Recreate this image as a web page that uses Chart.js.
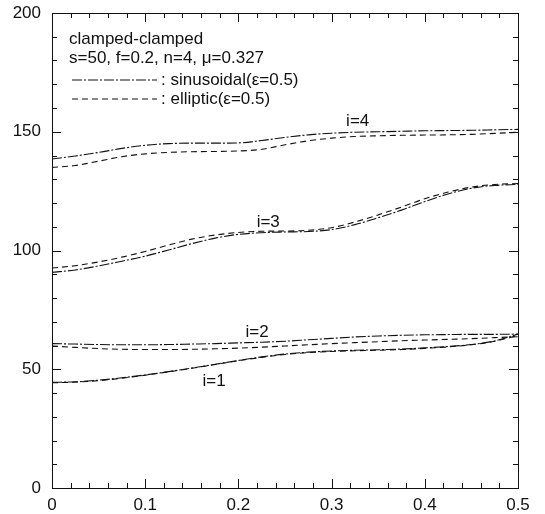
<!DOCTYPE html>
<html>
<head>
<meta charset="utf-8">
<script src="https://cdn.jsdelivr.net/npm/chart.js@4/dist/chart.umd.min.js"></script>
<style>
  html, body { margin: 0; padding: 0; background: #fff; }
  #wrap { width: 545px; height: 514px; }
</style>
</head>
<body>
<div id="wrap"><canvas id="chart" width="545" height="514"></canvas></div>
<script>
// aspect ratio values
const xs = [0, 0.025, 0.05, 0.075, 0.1, 0.125, 0.15, 0.175, 0.2, 0.225, 0.25,
            0.275, 0.3, 0.325, 0.35, 0.375, 0.4, 0.425, 0.45, 0.475, 0.5];

const sin4 = [138.5, 139.8, 141.3, 143, 144.3, 145, 145.2, 145.2, 145.3, 146.3, 147.6,
              148.7, 149.4, 149.8, 150, 150.2, 150.4, 150.5, 150.6, 150.8, 151];
const ell4 = [135, 135.8, 137.6, 139.5, 140.7, 141.3, 141.6, 141.7, 141.9, 142.6, 144.5,
              146.2, 147.3, 148, 148.3, 148.5, 148.6, 148.7, 148.9, 149.3, 149.8];
const sin3 = [90.8, 91.8, 93.5, 95.5, 97.6, 100.2, 102.9, 105.2, 106.8, 107.5, 107.8,
              108, 108.8, 110.9, 113.8, 117, 120.6, 123.8, 126.2, 127.4, 127.8];
const ell3 = [92.6, 93.6, 95.2, 97.2, 99.6, 102.3, 104.8, 106.5, 107.6, 108.1, 108.2,
              108.5, 109.6, 112, 115, 118.3, 121.8, 124.6, 126.7, 127.8, 128.2];
const sin2 = [60.8, 60.6, 60.4, 60.3, 60.3, 60.4, 60.6, 60.8, 61.1, 61.4, 61.8,
              62.4, 63, 63.6, 64, 64.3, 64.5, 64.6, 64.7, 64.7, 64.8];
const ell2 = [59.8, 59.2, 58.7, 58.4, 58.3, 58.3, 58.4, 58.6, 58.9, 59.3, 59.8,
              60.3, 60.8, 61.2, 61.6, 62, 62.3, 62.6, 62.9, 63.3, 63.7];
const sin1 = [44.5, 44.7, 45.4, 46.4, 47.6, 49, 50.5, 52.1, 53.7, 55.2, 56.4,
              57.2, 57.7, 58, 58.2, 58.5, 59, 59.6, 60.4, 61.9, 64.8];
const ell1 = [44.3, 44.6, 45.2, 46.2, 47.5, 48.9, 50.4, 52, 53.6, 55, 56.2,
              57, 57.5, 57.8, 58, 58.3, 58.8, 59.4, 60.3, 61.8, 64.2];

// curve labels: text, x, y (data units)
const curveLabels = ['i=4', 'i=3', 'i=2', 'i=1'];
const labelX = [0.328, 0.232, 0.22, 0.174];
const labelY = [154.5, 112, 65.5, 45];

const legendTitle = 'clamped-clamped';
const legendParams = 's=50, f=0.2, n=4, \u03bc=0.327';
const legendNames = [': sinusoidal(\u03b5=0.5)', ': elliptic(\u03b5=0.5)'];

const FONT = '17px "Liberation Sans", Arial, sans-serif';
const INK = '#111';
const SIN_DASH = [10, 2, 2, 2];
const ELL_DASH = [6, 4];

function pts(ys) {
    return xs.map((x, i) => ({ x, y: ys[i] }));
}

function line(ys, dash) {
    return {
        data: pts(ys),
        borderColor: INK,
        borderWidth: 1.1,
        borderDash: dash,
        pointRadius: 0,
        fill: false,
        cubicInterpolationMode: 'monotone',
    };
}

// ticks pointing inwards on all four sides, plus frame
const frameTicks = {
    id: 'frameTicks',
    afterDatasetsDraw(chart) {
        const { ctx, chartArea: a, scales: { x, y } } = chart;
        ctx.save();
        ctx.strokeStyle = INK;
        ctx.lineWidth = 1;
        ctx.setLineDash([]);
        ctx.beginPath();
        for (let i = 0; i <= 25; i++) {
            const v = i * 0.02;
            const px = Math.round(x.getPixelForValue(v)) + 0.5;
            const len = i % 5 === 0 ? 9 : 5;
            ctx.moveTo(px, a.bottom); ctx.lineTo(px, a.bottom - len);
            ctx.moveTo(px, a.top); ctx.lineTo(px, a.top + len);
        }
        for (let i = 0; i <= 20; i++) {
            const py = Math.round(y.getPixelForValue(i * 10)) + 0.5;
            const len = i % 5 === 0 ? 9 : 5;
            ctx.moveTo(a.left, py); ctx.lineTo(a.left + len, py);
            ctx.moveTo(a.right, py); ctx.lineTo(a.right - len, py);
        }
        ctx.stroke();
        ctx.strokeRect(Math.round(a.left) + 0.5, Math.round(a.top) + 0.5,
                       Math.round(a.right - a.left), Math.round(a.bottom - a.top));
        ctx.restore();
    }
};

const annotations = {
    id: 'annotations',
    afterDraw(chart) {
        const { ctx, chartArea: a, scales: { x, y } } = chart;
        ctx.save();
        ctx.fillStyle = INK;
        ctx.font = FONT;
        ctx.textBaseline = 'middle';
        ctx.textAlign = 'center';
        curveLabels.forEach((t, i) => {
            ctx.fillText(t, x.getPixelForValue(labelX[i]), y.getPixelForValue(labelY[i]));
        });

        // legend block
        ctx.textAlign = 'left';
        const lx = a.left + 17;
        ctx.fillText(legendTitle, lx, a.top + 26);
        ctx.fillText(legendParams, lx, a.top + 45);
        const dashes = [SIN_DASH, ELL_DASH];
        legendNames.forEach((t, i) => {
            const ly = a.top + 67 + i * 19;
            ctx.beginPath();
            ctx.setLineDash(dashes[i]);
            ctx.strokeStyle = INK;
            ctx.lineWidth = 1.1;
            ctx.moveTo(lx + 3, ly);
            ctx.lineTo(lx + 88, ly);
            ctx.stroke();
            ctx.fillText(t, lx + 92, ly);
        });
        ctx.restore();
    }
};

new Chart(document.getElementById('chart'), {
    type: 'line',
    data: {
        datasets: [
            line(sin4, SIN_DASH), line(ell4, ELL_DASH),
            line(sin3, SIN_DASH), line(ell3, ELL_DASH),
            line(sin2, SIN_DASH), line(ell2, ELL_DASH),
            line(sin1, SIN_DASH), line(ell1, ELL_DASH),
        ],
    },
    options: {
        responsive: false,
        animation: false,
        layout: { padding: { top: 13, right: 27, left: 0, bottom: 0 } },
        plugins: { legend: { display: false }, tooltip: { enabled: false } },
        scales: {
            x: {
                type: 'linear',
                min: 0,
                max: 0.5,
                grid: { display: false, drawTicks: false },
                border: { display: false },
                ticks: {
                    stepSize: 0.1,
                    padding: 7,
                    color: INK,
                    font: { family: '"Liberation Sans", Arial, sans-serif', size: 17 },
                    maxRotation: 0,
                },
                afterFit(scale) { scale.height = 26; },
            },
            y: {
                min: 0,
                max: 200,
                grid: { display: false, drawTicks: false },
                border: { display: false },
                ticks: {
                    stepSize: 50,
                    padding: 11,
                    color: INK,
                    font: { family: '"Liberation Sans", Arial, sans-serif', size: 17 },
                },
                afterFit(scale) {
                    scale.width = 52;
                    scale.paddingTop = 0;
                    scale.paddingBottom = 0;
                },
            },
        },
    },
    plugins: [frameTicks, annotations],
});
</script>
</body>
</html>
